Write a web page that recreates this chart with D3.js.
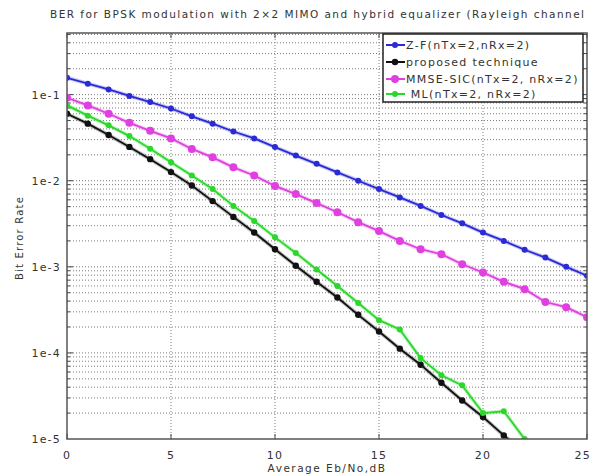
<!DOCTYPE html>
<html>
<head>
<meta charset="utf-8">
<script src="https://cdn.jsdelivr.net/npm/d3@7"></script>
<style>
  body { margin: 0; background: #fff; }
  svg { display: block; }
  text { font-family: "DejaVu Sans", sans-serif; fill: #333; }
  .grid line { stroke: #7a7a7a; stroke-width: 1; stroke-dasharray: 1,2; }
</style>
</head>
<body>
<div id="chart"></div>
<script>
(function () {
    // Eb/No in dB
    const snr = d3.range(0, 26);
    const zf = [0.157, 0.134, 0.115, 0.0966, 0.082, 0.069, 0.056, 0.046, 0.0373, 0.031,
        0.0246, 0.0196, 0.0157, 0.0125, 0.0100, 0.0080, 0.0064, 0.0051, 0.0040, 0.0032,
        0.0025, 0.0020, 0.00158, 0.00128, 0.0010, 0.00079];
    const proposed = [0.060, 0.046, 0.034, 0.0247, 0.0178, 0.0126, 0.0088, 0.0058, 0.0038, 0.0025,
        0.0016, 0.00103, 0.00067, 0.00044, 0.000277, 0.000177, 0.000112, 0.000073, 0.000045, 0.000028,
        0.000018, 0.000011, 0.000007];
    const mmse = [0.092, 0.075, 0.060, 0.047, 0.038, 0.031, 0.0234, 0.0187, 0.0143, 0.0115,
        0.0087, 0.0070, 0.0055, 0.0043, 0.0033, 0.0026, 0.0020, 0.0016, 0.0014, 0.00107,
        0.00086, 0.00067, 0.00055, 0.00039, 0.00034, 0.00026];
    const ml = [0.075, 0.057, 0.044, 0.033, 0.0235, 0.0164, 0.0115, 0.0080, 0.0051, 0.0034,
        0.0022, 0.00145, 0.00093, 0.00060, 0.00038, 0.00024, 0.000187, 0.000087, 0.000055, 0.000042,
        0.000020, 0.000021, 0.00001];

    const xTicks = [0, 5, 10, 15, 20, 25];
    const yTicks = [1e-1, 1e-2, 1e-3, 1e-4, 1e-5];
    const yTickLabels = ["1e-1", "1e-2", "1e-3", "1e-4", "1e-5"];

    const series = [
        { name: "Z-F(nTx=2,nRx=2)", values: zf, color: "#2a2ad8", r: 3 },
        { name: "proposed technique", values: proposed, color: "#111", r: 3.2 },
        { name: "MMSE-SIC(nTx=2, nRx=2)", values: mmse, color: "#e040e0", r: 4 },
        { name: " ML(nTx=2, nRx=2)", values: ml, color: "#2ad82a", r: 3 },
    ];

    const width = 592, height = 474;
    const margin = { top: 33, right: 5, bottom: 35, left: 67 };
    const c = {
        width: width - margin.left - margin.right,
        height: height - margin.top - margin.bottom
    };

    c.x = d3.scaleLinear().domain([0, 25]).range([0, c.width]);
    c.y = d3.scaleLog().domain([1e-5, 0.52]).range([c.height, 0]);

    const base = d3.select("#chart").append("svg")
        .attr("width", width)
        .attr("height", height);

    // title is cropped at the right edge in the source image
    base.append("text")
        .attr("x", 50).attr("y", 18)
        .style("font-size", "10.5px")
        .style("letter-spacing", "1.45px")
        .text("BER for BPSK modulation with 2\u00d72 MIMO and hybrid equalizer (Rayleigh channel");

    c.svg = base.append("g")
        .attr("transform", "translate(" + margin.left + "," + margin.top + ")");

    base.append("defs").append("clipPath").attr("id", "plot-clip")
        .append("rect").attr("width", c.width).attr("height", c.height);

    // minor + major log grid
    const minor = [];
    for (let e = -5; e <= -1; e++) {
        for (let m = 1; m <= 9; m++) {
            const v = m * Math.pow(10, e);
            if (v > 1e-5 && v < c.y.domain()[1]) minor.push(v);
        }
    }
    c.grid = c.svg.append("g").attr("class", "grid");
    c.grid.selectAll(".h").data(minor).join("line")
        .attr("x1", 0).attr("x2", c.width)
        .attr("y1", d => c.y(d)).attr("y2", d => c.y(d));
    c.grid.selectAll(".v").data(xTicks.slice(1, -1)).join("line")
        .attr("x1", d => c.x(d)).attr("x2", d => c.x(d))
        .attr("y1", 0).attr("y2", c.height);

    // small tick marks on the axes
    const ticks = c.svg.append("g").attr("stroke", "#444").attr("stroke-width", 1);
    ticks.selectAll(".yl").data(minor).join("line")
        .attr("x1", 0).attr("x2", d => yTicks.includes(d) ? 6 : 3)
        .attr("y1", d => c.y(d)).attr("y2", d => c.y(d));
    ticks.selectAll(".yr").data(minor).join("line")
        .attr("x1", c.width).attr("x2", d => c.width - (yTicks.includes(d) ? 6 : 3))
        .attr("y1", d => c.y(d)).attr("y2", d => c.y(d));
    ticks.selectAll(".xb").data(xTicks).join("line")
        .attr("x1", d => c.x(d)).attr("x2", d => c.x(d))
        .attr("y1", c.height).attr("y2", c.height - 5);
    ticks.selectAll(".xt").data(xTicks).join("line")
        .attr("x1", d => c.x(d)).attr("x2", d => c.x(d))
        .attr("y1", 0).attr("y2", 5);

    // curves
    const line = d3.line()
        .x((d, i) => c.x(snr[i]))
        .y(d => c.y(d));
    c.charts = c.svg.append("g").attr("clip-path", "url(#plot-clip)");
    series.forEach(s => {
        const g = c.charts.append("g");
        g.append("path")
            .attr("d", line(s.values))
            .attr("fill", "none")
            .attr("stroke", s.color)
            .attr("stroke-opacity", 0.25)
            .attr("stroke-width", 4);
        g.append("path")
            .attr("d", line(s.values))
            .attr("fill", "none")
            .attr("stroke", s.color)
            .attr("stroke-width", 1.8);
        g.selectAll("circle").data(s.values).join("circle")
            .attr("cx", (d, i) => c.x(snr[i]))
            .attr("cy", d => c.y(d))
            .attr("r", s.r)
            .attr("fill", s.color);
    });

    // frame
    c.svg.append("rect")
        .attr("width", c.width).attr("height", c.height)
        .attr("fill", "none").attr("stroke", "#555").attr("stroke-width", 1.5);

    // tick labels
    c.svg.selectAll(".ylab").data(yTicks).join("text")
        .attr("x", -6).attr("y", d => c.y(d) + 4)
        .attr("text-anchor", "end")
        .style("font-size", "11px").style("letter-spacing", "1.2px")
        .text((d, i) => yTickLabels[i]);
    c.svg.selectAll(".xlab").data(xTicks).join("text")
        .attr("x", (d, i) => i === xTicks.length - 1 ? c.width + 4 : c.x(d))
        .attr("y", c.height + 20)
        .attr("text-anchor", (d, i) => i === xTicks.length - 1 ? "end" : "middle")
        .style("font-size", "11px").style("letter-spacing", "1.2px")
        .text(d => d);

    c.svg.append("text")
        .attr("x", c.width / 2).attr("y", c.height + 33)
        .attr("text-anchor", "middle")
        .style("font-size", "10.5px").style("letter-spacing", "1.5px")
        .text("Average Eb/No,dB");

    base.append("text")
        .attr("transform", "translate(23," + (margin.top + 205) + ") rotate(-90)")
        .attr("text-anchor", "middle")
        .style("font-size", "10px").style("letter-spacing", "1.2px")
        .text("Bit Error Rate");

    // legend
    const lg = base.append("g").attr("transform", "translate(383,34)");
    lg.append("rect")
        .attr("width", 200).attr("height", 68)
        .attr("fill", "#fff").attr("stroke", "#222").attr("stroke-width", 1.5);
    const rowY = [11, 28, 45, 60];
    series.forEach((s, i) => {
        const row = lg.append("g").attr("transform", "translate(0," + rowY[i] + ")");
        row.append("line")
            .attr("x1", 3).attr("x2", 22)
            .attr("stroke", s.color).attr("stroke-width", 2);
        row.append("circle").attr("cx", 12).attr("r", s.r).attr("fill", s.color);
        row.append("text")
            .attr("x", 23).attr("y", 4)
            .attr("xml:space", "preserve")
            .style("white-space", "pre")
            .style("font-size", "11px").style("letter-spacing", "1.3px")
            .text(s.name);
    });
})();
</script>
</body>
</html>
